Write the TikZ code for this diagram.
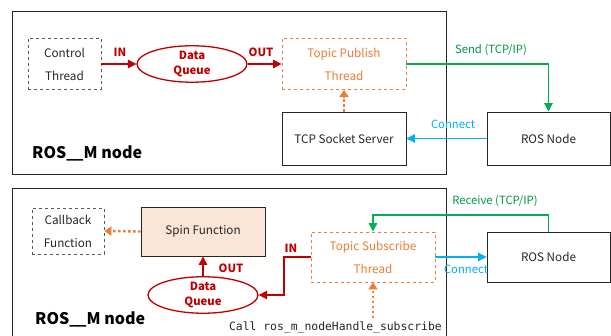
\documentclass[tikz,border=0pt]{standalone}
\usepackage{fontspec}
\setmainfont{Noto Sans CJK KR}
\setmonofont{DejaVu Sans Mono}
\usetikzlibrary{arrows.meta,shapes.geometric}
\definecolor{qred}{HTML}{C00000}
\definecolor{qorange}{HTML}{ED7D31}
\definecolor{qgreen}{HTML}{00B050}
\definecolor{qblue}{HTML}{00B0F0}
\definecolor{qfill}{HTML}{FBE5D6}
\definecolor{qgray}{HTML}{595959}
\tikzset{
  frame/.style={draw=black!85, line width=0.9pt},
  txt/.style={font=\fontsize{11.7}{23}\selectfont, align=center, inner sep=0pt},
  graybox/.style={txt, draw=qgray, dashed, line width=0.9pt, text=black!85},
  orangebox/.style={txt, draw=qorange, dashed, line width=0.9pt, text=qorange},
  plainbox/.style={txt, draw=black!85, line width=0.9pt, text=black!85},
  queue/.style={ellipse, draw=qred, line width=1.3pt, text=qred, inner sep=0pt,
    font=\bfseries\fontsize{11.3}{15}\selectfont, align=center,
    minimum width=110pt, minimum height=34pt},
  redarrow/.style={draw=qred, line width=1.3pt, -{Triangle[length=8.5pt,width=8.5pt]}},
  redlab/.style={text=qred, font=\bfseries\fontsize{11.3}{13}\selectfont, inner sep=0pt},
  dotarrow/.style={draw=qorange, line width=2.4pt, dash pattern=on 2.4pt off 2.6pt,
    -{Triangle[length=7pt,width=9pt]}},
  greenline/.style={draw=qgreen, line width=1.1pt, -{Triangle[length=8.5pt,width=8.5pt]}},
  blueline/.style={draw=qblue, line width=1.1pt, -{Triangle[length=8.5pt,width=8.5pt]}},
  greenlab/.style={text=qgreen!85!black, font=\fontsize{11.3}{13}\selectfont, inner sep=0pt},
  bluelab/.style={text=qblue, font=\fontsize{11.3}{13}\selectfont, inner sep=0pt},
  title/.style={font=\bfseries\fontsize{16}{18}\selectfont, text=black, inner sep=0pt}
}
\begin{document}
\begin{tikzpicture}[x=1pt,y=-1pt]
\useasboundingbox (0,0) rectangle (611,336);
\clip (0,0) rectangle (611,336);
\fill[white] (0,0) rectangle (611,336);

% ---------- publisher side ----------
\draw[frame] (12.5,11) rectangle (446,174);
\node[graybox, minimum width=73pt, minimum height=51pt] (ctl) at (64.5,64) {Control\\Thread};
\node[queue] (dq1) at (192,64) {Data\\Queue};
\node[orangebox, minimum width=124pt, minimum height=51pt] (pub) at (344,64) {Topic Publish\\Thread};
\node[plainbox, minimum width=124pt, minimum height=53pt] (tcp) at (344,138.5) {TCP Socket Server};
\node[plainbox, minimum width=123pt, minimum height=53pt] (ros1) at (548.5,138.5) {ROS Node};
\node[title, anchor=west] (t1) at (32,153) {ROS\_\kern-1pt\_M node};

\draw[redarrow] (ctl.east) -- (dq1.west);
\node[redlab] (in1) at (120,52) {IN};
\draw[redarrow] (dq1.east) -- (pub.west);
\node[redlab] (out1) at (261,52) {OUT};
\draw[dotarrow] (tcp.north) -- (pub.south);
\draw[greenline] (pub.east) -| (ros1.north);
\node[greenlab] (send) at (491,50) {Send (TCP/IP)};
\draw[blueline] (ros1.west) -- (tcp.east);
\node[bluelab] (con1) at (453,124) {Connect};

% ---------- subscriber side ----------
\draw[frame] (12.5,188) rectangle (446,345);
\node[graybox, minimum width=72pt, minimum height=46pt] (cb) at (68,231) {Callback\\Function};
\node[plainbox, fill=qfill, minimum width=124pt, minimum height=49pt] (spin) at (203,231.5) {Spin Function};
\node[queue] (dq2) at (203,295) {Data\\Queue};
\node[orangebox, minimum width=124pt, minimum height=50pt] (sub) at (373,257) {Topic Subscribe\\Thread};
\node[plainbox, minimum width=123pt, minimum height=50pt] (ros2) at (548.5,257) {ROS Node};
\node[title, anchor=west] (t2) at (35,319) {ROS\_\kern-1pt\_M node};

\draw[dotarrow] (spin.west) -- (cb.east);
\draw[redarrow] (dq2.north) -- (spin.south);
\node[redlab] (out2) at (231,268) {OUT};
\coordinate (bend) at (284,257);
\draw[redarrow] (sub.west) -- (bend) |- (dq2.east);
\node[redlab] (in2) at (291,248) {IN};
\coordinate (rtop) at (548.5,215);
\draw[greenline] (ros2.north) -- (rtop) -| (sub.north);
\node[greenlab] (recv) at (495,201) {Receive (TCP/IP)};
\draw[blueline] (sub.east) -- (ros2.west);
\node[bluelab] (con2) at (466,269) {Connect};
\coordinate (callpt) at (373,318);
\draw[dotarrow] (callpt) -- (sub.south);
\node[inner sep=0pt, font=\ttfamily\fontsize{11.4}{13}\selectfont, text=black!85, anchor=east] (call) at (442,327) {Call ros\_m\_nodeHandle\_subscribe};
\end{tikzpicture}
\end{document}
